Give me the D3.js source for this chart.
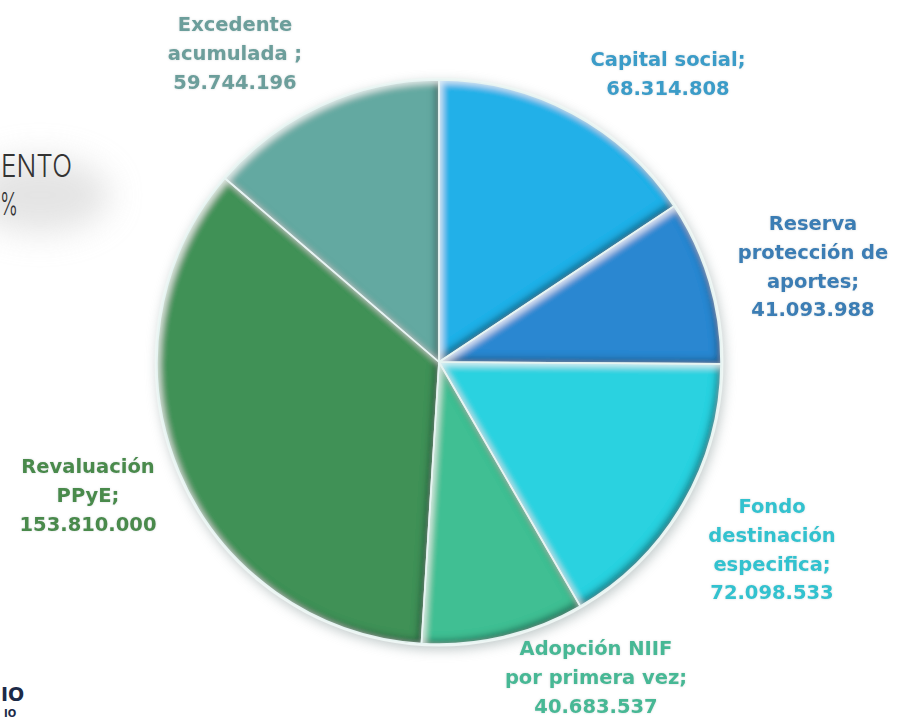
<!DOCTYPE html>
<html>
<head>
<meta charset="utf-8">
<script src="https://cdn.jsdelivr.net/npm/d3@7"></script>
<style>
  html, body { margin: 0; padding: 0; background: #ffffff; }
  svg { display: block; }
</style>
</head>
<body>
<svg id="chart" width="901" height="719"></svg>
<script>
// ---- data ----
const categories = [
  "Capital social",
  "Reserva protección de aportes",
  "Fondo destinación especifica",
  "Adopción NIIF por primera vez",
  "Revaluación PPyE",
  "Excedente acumulada"
];
const values = [68314808, 41093988, 72098533, 40683537, 153810000, 59744196];
const valueLabels = ["68.314.808", "41.093.988", "72.098.533", "40.683.537", "153.810.000", "59.744.196"];
const labelLines = [
  ["Capital social;"],
  ["Reserva", "protección de", "aportes;"],
  ["Fondo", "destinación", "especifica;"],
  ["Adopción NIIF", "por primera vez;"],
  ["Revaluación", "PPyE;"],
  ["Excedente", "acumulada ;"]
];
const titleFragments = ["ENTO", "%"];
const logoFragments = ["IO", "IO"];

// ---- style / layout (not data) ----
const sliceColors = ["#22b0e8", "#2b87d1", "#2ad2e0", "#40bf93", "#3f9156", "#63a9a1"];
const textColors  = ["#3a9cc8", "#3a7db4", "#32c2cf", "#47b895", "#4a8a4c", "#6c9e9b"];
const labelPos = [ // [center x, first baseline]
  [668, 66], [813, 230], [772, 513], [596, 655], [88, 473], [235, 31]
];
const lineGap = 28.8;

const cx = 439, cy = 362, R = 282;

const svg = d3.select("#chart");
const defs = svg.append("defs");

// bevel filter
const bevel = defs.append("filter").attr("id", "bevel")
  .attr("x", "-10%").attr("y", "-10%").attr("width", "120%").attr("height", "120%");
bevel.append("feGaussianBlur").attr("in", "SourceAlpha").attr("stdDeviation", 3.5).attr("result", "blur");
bevel.append("feOffset").attr("in", "blur").attr("dx", -4).attr("dy", -4).attr("result", "offA");
bevel.append("feComposite").attr("in", "SourceAlpha").attr("in2", "offA").attr("operator", "out").attr("result", "edgeA");
bevel.append("feFlood").attr("flood-color", "#06262c").attr("flood-opacity", 0.7).attr("result", "darkC");
bevel.append("feComposite").attr("in", "darkC").attr("in2", "edgeA").attr("operator", "in").attr("result", "dark");
bevel.append("feOffset").attr("in", "blur").attr("dx", 3).attr("dy", 3).attr("result", "offB");
bevel.append("feComposite").attr("in", "SourceAlpha").attr("in2", "offB").attr("operator", "out").attr("result", "edgeB");
bevel.append("feFlood").attr("flood-color", "#ffffff").attr("flood-opacity", 0.75).attr("result", "lightC");
bevel.append("feComposite").attr("in", "lightC").attr("in2", "edgeB").attr("operator", "in").attr("result", "light");
const bm = bevel.append("feMerge");
bm.append("feMergeNode").attr("in", "SourceGraphic");
bm.append("feMergeNode").attr("in", "dark");
bm.append("feMergeNode").attr("in", "light");

// soft shadow
const shadow = defs.append("filter").attr("id", "shadow")
  .attr("x", "-20%").attr("y", "-20%").attr("width", "140%").attr("height", "140%");
shadow.append("feGaussianBlur").attr("stdDeviation", 6);

const blurBox = defs.append("filter").attr("id", "blurbox")
  .attr("x", "-80%").attr("y", "-80%").attr("width", "260%").attr("height", "260%");
blurBox.append("feGaussianBlur").attr("stdDeviation", 16);

const textGlow = defs.append("filter").attr("id", "textglow")
  .attr("x", "-10%").attr("y", "-30%").attr("width", "120%").attr("height", "160%");
textGlow.append("feGaussianBlur").attr("in", "SourceAlpha").attr("stdDeviation", 1.3).attr("result", "b");
textGlow.append("feFlood").attr("flood-color", "#8a9a9a").attr("flood-opacity", 0.35);
textGlow.append("feComposite").attr("in2", "b").attr("operator", "in").attr("result", "g");
const tgm = textGlow.append("feMerge");
tgm.append("feMergeNode").attr("in", "g");
tgm.append("feMergeNode").attr("in", "SourceGraphic");

// ---- partial title at left (cropped in reference) ----
svg.append("ellipse").attr("cx", 40).attr("cy", 195).attr("rx", 70).attr("ry", 38)
  .attr("fill", "#cfcfcf").attr("opacity", 0.55).attr("filter", "url(#blurbox)");
svg.append("text").attr("x", 1).attr("y", 177)
  .attr("font-family", "Inter, 'Open Sans', sans-serif").attr("font-weight", 300)
  .attr("font-size", 31).attr("fill", "#333")
  .attr("textLength", 71).attr("lengthAdjust", "spacingAndGlyphs").text(titleFragments[0]);
svg.append("text").attr("x", 0).attr("y", 215)
  .attr("font-family", "Inter, 'Open Sans', sans-serif").attr("font-weight", 300)
  .attr("font-size", 31).attr("fill", "#333")
  .attr("textLength", 18).attr("lengthAdjust", "spacingAndGlyphs").text(titleFragments[1]);

// bottom-left logo fragment
svg.append("text").attr("x", 1).attr("y", 701)
  .attr("font-family", "'DejaVu Sans', sans-serif").attr("font-weight", 700)
  .attr("font-size", 19).attr("fill", "#1c2a48").text(logoFragments[0]);
svg.append("text").attr("x", 4).attr("y", 717)
  .attr("font-family", "'DejaVu Sans', sans-serif").attr("font-weight", 700)
  .attr("font-size", 10).attr("fill", "#1c2a48").text(logoFragments[1]);

// ---- pie ----
const pie = d3.pie().sort(null).value(d => d.value);
const data = categories.map((c, i) => ({ name: c, value: values[i], i }));
const arcs = pie(data);
const arc = d3.arc().innerRadius(0).outerRadius(R);

const g = svg.append("g").attr("transform", `translate(${cx},${cy})`);

g.append("circle").attr("r", R + 2).attr("cx", 2).attr("cy", 4)
  .attr("fill", "#9aa8a8").attr("opacity", 0.6).attr("filter", "url(#shadow)");
g.append("circle").attr("r", R + 2.5).attr("fill", "#eef6f4");

g.selectAll("path.slice").data(arcs).enter().append("path")
  .attr("class", "slice")
  .attr("d", arc)
  .attr("fill", d => sliceColors[d.data.i])
  .attr("filter", "url(#bevel)");

g.selectAll("path.sep").data(arcs).enter().append("path")
  .attr("class", "sep")
  .attr("d", arc)
  .attr("fill", "none")
  .attr("stroke", "#e6f4f2")
  .attr("stroke-width", 1.6)
  .attr("stroke-linejoin", "round");

// ---- labels ----
const lbl = svg.append("g")
  .attr("font-family", "'DejaVu Sans', sans-serif")
  .attr("font-weight", 700)
  .attr("font-size", 19.5)
  .attr("text-anchor", "middle")
  .attr("filter", "url(#textglow)");

arcs.forEach(d => {
  const i = d.data.i;
  const lines = labelLines[i].concat([valueLabels[i]]);
  const t = lbl.append("text").attr("fill", textColors[i]);
  lines.forEach((ln, k) => {
    t.append("tspan").attr("x", labelPos[i][0]).attr("y", labelPos[i][1] + k * lineGap).text(ln);
  });
});
</script>
</body>
</html>
